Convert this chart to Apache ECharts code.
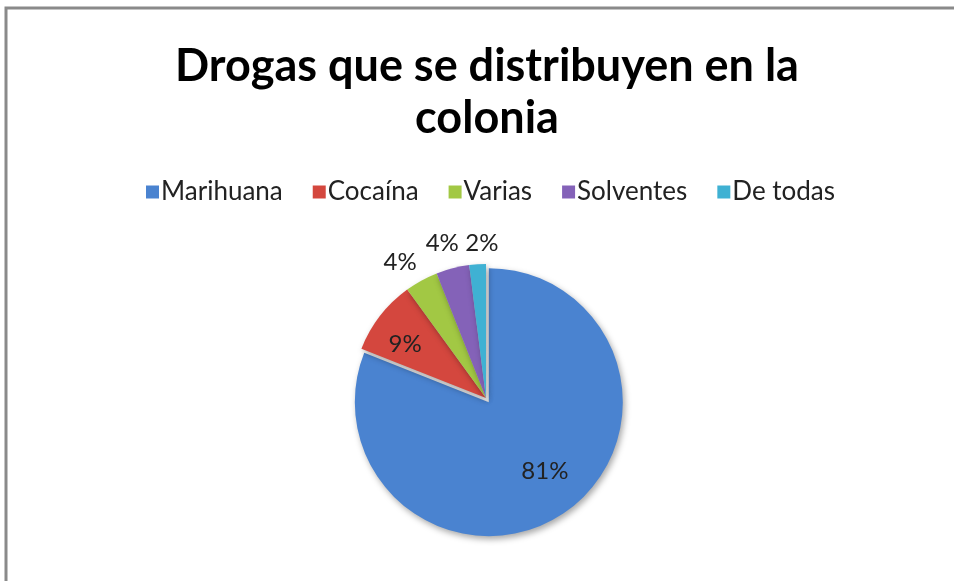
<!DOCTYPE html>
<html>
<head>
<meta charset="utf-8">
<script src="https://cdn.jsdelivr.net/npm/echarts@6/dist/echarts.min.js"></script>
<style>html,body{margin:0;padding:0;background:#fff;}#chart{width:954px;height:581px;}</style>
</head>
<body>
<div id="chart"></div>
<script>
var categories = ['Marihuana', 'Cocaína', 'Varias', 'Solventes', 'De todas'];
var values = [81, 9, 4, 4, 2];
var labels = ['81%', '9%', '4%', '4%', '2%'];
var titleText = 'Drogas que se distribuyen en la\ncolonia';

var colors = ['#4a83d0', '#d4473e', '#a2c844', '#8462b8', '#3fb1d3'];
var CX = 486, CY = 398, R = 134;
// label radius as a fraction of the pie radius (inside: <1, outside: >1)
var labelRadius = [0.70, 0.726, 1.2, 1.2, 1.157];
var labelAngleShift = [-4.7, -4.1, -3.5, -1.4, 2.1];

var total = values.reduce(function (a, b) { return a + b; }, 0);
var mids = [];
var acc = 0;
values.forEach(function (v) { mids.push((acc + v / 2) / total * 360); acc += v; });

var chart = echarts.init(document.getElementById('chart'), null, {renderer: 'canvas'});
chart.setOption({
  animation: false,
  color: colors,
  graphic: [{
    type: 'polyline',
    shape: {points: [[6, 700], [6, 8], [1100, 8]]},
    style: {fill: null, stroke: '#8a8a8a', lineWidth: 3}
  }],
  title: {
    text: titleText, left: 482, top: 35, textAlign: 'center',
    textStyle: {fontFamily: 'Lato', fontWeight: 'bold', fontSize: 45, color: '#000', lineHeight: 52}
  },
  legend: {
    top: 174, left: 141, itemWidth: 13, itemHeight: 13, itemGap: 30, icon: 'rect',
    textStyle: {fontFamily: 'Lato', fontSize: 26, color: '#222', padding: [0, 0, 0, -3]},
    data: categories
  },
  series: [{
    type: 'pie',
    center: [CX, CY], radius: R,
    startAngle: 90, clockwise: true,
    selectedMode: 'single', selectedOffset: 5,
    emphasis: {disabled: true},
    label: {show: false},
    labelLine: {show: false},
    itemStyle: {shadowBlur: 6, shadowColor: 'rgba(0,0,0,0.35)', shadowOffsetX: 2, shadowOffsetY: 3},
    data: categories.map(function (c, i) {
      return {name: c, value: values[i], selected: i === 0};
    })
  }, {
    // transparent overlay that carries the percentage labels
    type: 'pie',
    center: [CX, CY], radius: R,
    startAngle: 90, clockwise: true,
    silent: true, selectedMode: false,
    avoidLabelOverlap: false,
    emphasis: {disabled: true},
    labelLine: {show: false},
    itemStyle: {color: 'rgba(0,0,0,0)'},
    label: {
      show: true, position: 'inside',
      fontFamily: 'Lato', fontSize: 24, color: '#222',
      formatter: function (p) { return labels[p.dataIndex]; }
    },
    labelLayout: function (p) {
      var i = p.dataIndex;
      var a = (mids[i] + labelAngleShift[i]) * Math.PI / 180;
      var r = R * labelRadius[i];
      return {x: CX + r * Math.sin(a), y: CY - r * Math.cos(a), align: 'center', verticalAlign: 'middle'};
    },
    data: categories.map(function (c, i) {
      return {name: c, value: values[i]};
    })
  }]
});
</script>
</body>
</html>
